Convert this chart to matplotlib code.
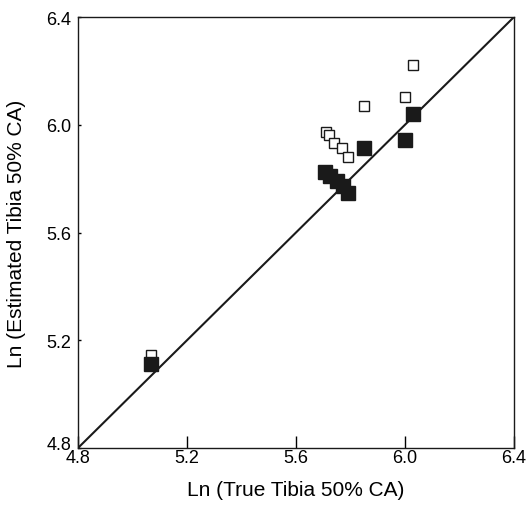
import numpy as np
import matplotlib.pyplot as plt
import matplotlib.transforms as mtransforms

plt.rcParams['font.family'] = ['Liberation Sans', 'DejaVu Sans']

# Ln of tibia 50% cross-sectional area: true vs. estimated
true_filled = [5.068, 5.706, 5.725, 5.750, 5.772, 5.791, 5.850, 6.000, 6.030]
est_filled = [5.112, 5.825, 5.810, 5.791, 5.773, 5.747, 5.913, 5.943, 6.041]

true_open = [5.068, 5.710, 5.720, 5.739, 5.770, 5.790, 5.850, 6.000, 6.030]
est_open = [5.146, 5.972, 5.962, 5.932, 5.913, 5.881, 6.071, 6.102, 6.223]

lims = [4.8, 6.4]
ticks = [4.8, 5.2, 5.6, 6.0, 6.4]

fig = plt.figure(figsize=(5.28, 5.10), dpi=100)
ax = fig.add_axes([0.1477, 0.1196, 0.8258, 0.8451])

ax.plot(lims, lims, color='#1a1a1a', lw=1.5, zorder=1)
ax.plot(true_open, est_open, 's', ms=7, mfc='white', mec='#1a1a1a', mew=1.0, ls='none', zorder=2)
ax.plot(true_filled, est_filled, 's', ms=10, mfc='#1a1a1a', mec='#1a1a1a', ls='none', zorder=3)

ax.set_xlim(lims)
ax.set_ylim(lims)
ax.set_xticks(ticks)
ax.set_yticks(ticks)
ax.set_xticklabels(['%.1f' % t for t in ticks])
ax.set_yticklabels(['%.1f' % t for t in ticks])
ax.tick_params(axis='x', direction='in', length=9, width=1, labelsize=13, pad=1)
ax.tick_params(axis='y', direction='in', length=2.5, width=1, labelsize=13, pad=5)
for s in ax.spines.values():
    s.set_linewidth(1.0)
    s.set_color('#1a1a1a')

# lift the bottom y tick label a little so it clears the x one
lbl = ax.get_yticklabels()[0]
lbl.set_transform(lbl.get_transform() + mtransforms.ScaledTranslation(0, 4 / 72, fig.dpi_scale_trans))

ax.set_xlabel('Ln (True Tibia 50% CA)', fontsize=15, labelpad=10)
ax.set_ylabel('Ln (Estimated Tibia 50% CA)', fontsize=15, labelpad=14)

plt.savefig('out.png', dpi=100)
